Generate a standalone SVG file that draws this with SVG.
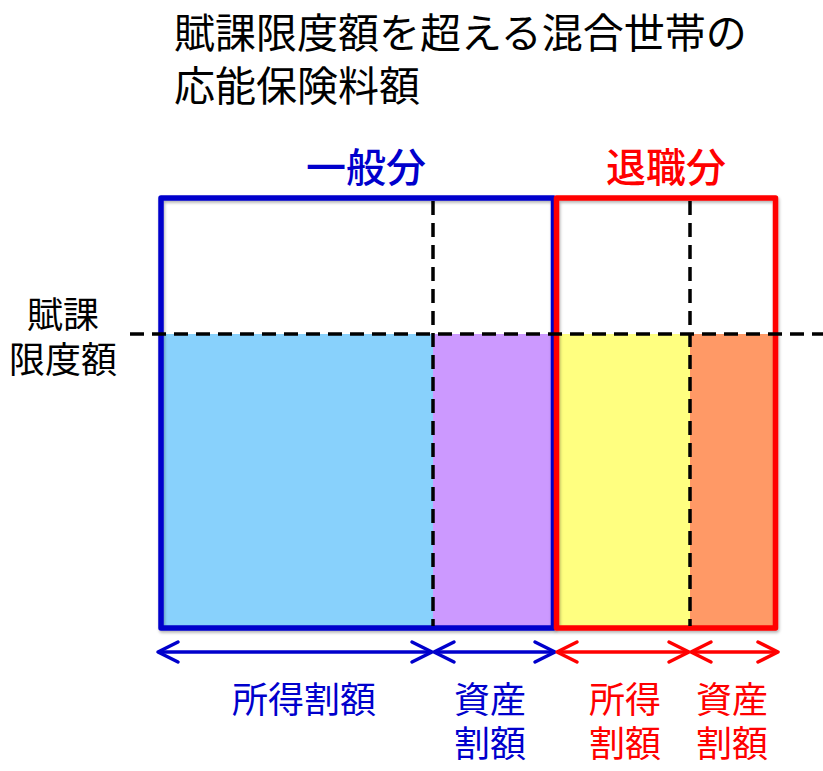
<svg xmlns="http://www.w3.org/2000/svg" width="823" height="771" viewBox="0 0 823 771">
  <style>
    text { font-family: "Noto Sans CJK JP", "Noto Sans", sans-serif; }
    .title { font-size: 41px; fill: #000000; }
    .head { font-size: 40px; text-anchor: middle; font-weight: 500; }
    .lbl { font-size: 36px; text-anchor: middle; }
    .blue { fill: #0000CC; }
    .red { fill: #FF0000; }
    .black { fill: #000000; }
    .dash { stroke: #000000; stroke-width: 3.5; stroke-dasharray: 14 8; fill: none; }
    .box { fill: none; stroke-width: 5.5; stroke-linejoin: round; }
    .arr-b { stroke: #0000CC; stroke-width: 3.5; fill: none; marker-start: url(#hb); marker-end: url(#hb); }
    .arr-r { stroke: #FF0000; stroke-width: 3.5; fill: none; marker-start: url(#hr); marker-end: url(#hr); }
  </style>
  <defs>
    <marker id="hb" viewBox="-24 -14 28 28" refX="0" refY="0" markerWidth="28" markerHeight="28" markerUnits="userSpaceOnUse" orient="auto-start-reverse">
      <path d="M-20,-10 L0,0 L-20,10" fill="none" stroke="#0000CC" stroke-width="3.5" stroke-linecap="round" stroke-linejoin="round"/>
    </marker>
    <marker id="hr" viewBox="-24 -14 28 28" refX="0" refY="0" markerWidth="28" markerHeight="28" markerUnits="userSpaceOnUse" orient="auto-start-reverse">
      <path d="M-20,-10 L0,0 L-20,10" fill="none" stroke="#FF0000" stroke-width="3.5" stroke-linecap="round" stroke-linejoin="round"/>
    </marker>
    <filter id="sh" x="-5%" y="-5%" width="110%" height="110%">
      <feDropShadow dx="1" dy="2" stdDeviation="1.5" flood-color="#000" flood-opacity="0.3"/>
    </filter>
  </defs>
  <rect width="823" height="771" fill="#FFFFFF"/>

  <g id="title">
    <text class="title" x="174" y="48"><tspan x="174" y="48">賦課限度額を超える混合世帯の</tspan><tspan x="174" y="101">応能保険料額</tspan></text>
  </g>

  <g id="head-general"><text class="head blue" x="366" y="182">一般分</text></g>
  <g id="head-retired"><text class="head red" x="666" y="182">退職分</text></g>

  <g id="threshold-label">
    <text class="lbl black"><tspan x="63" y="328">賦課</tspan><tspan x="63" y="373">限度額</tspan></text>
  </g>

  <g id="cells">
    <rect id="cell-general-income" x="161" y="334" width="272" height="294" fill="#88D1FC"/>
    <rect id="cell-general-asset" x="433" y="334" width="121" height="294" fill="#CC99FF"/>
    <rect id="cell-retired-income" x="556" y="334" width="134" height="294" fill="#FFFF80"/>
    <rect id="cell-retired-asset" x="690" y="334" width="86" height="294" fill="#FF9966"/>
  </g>

  <g id="box-general"><rect class="box" x="161" y="198" width="392.5" height="430" stroke="#0000CC" filter="url(#sh)"/></g>
  <g id="box-retired"><rect class="box" x="556.5" y="198" width="219" height="430" stroke="#FF0000" filter="url(#sh)"/></g>

  <g id="connectors">
    <line class="dash" x1="433" y1="201" x2="433" y2="626"/>
    <line class="dash" x1="690" y1="201" x2="690" y2="626"/>
    <line class="dash" x1="130" y1="334" x2="823" y2="334"/>
    <line class="arr-b" x1="158" y1="652" x2="432" y2="652"/>
    <line class="arr-b" x1="434" y1="652" x2="555" y2="652"/>
    <line class="arr-r" x1="557" y1="652" x2="689" y2="652"/>
    <line class="arr-r" x1="691" y1="652" x2="778" y2="652"/>
  </g>

  <g id="label-general-income"><text class="lbl blue" x="304" y="713">所得割額</text></g>
  <g id="label-general-asset">
    <text class="lbl blue"><tspan x="490" y="713">資産</tspan><tspan x="490" y="757">割額</tspan></text>
  </g>
  <g id="label-retired-income">
    <text class="lbl red"><tspan x="625" y="713">所得</tspan><tspan x="625" y="757">割額</tspan></text>
  </g>
  <g id="label-retired-asset">
    <text class="lbl red"><tspan x="732" y="713">資産</tspan><tspan x="732" y="757">割額</tspan></text>
  </g>
</svg>
